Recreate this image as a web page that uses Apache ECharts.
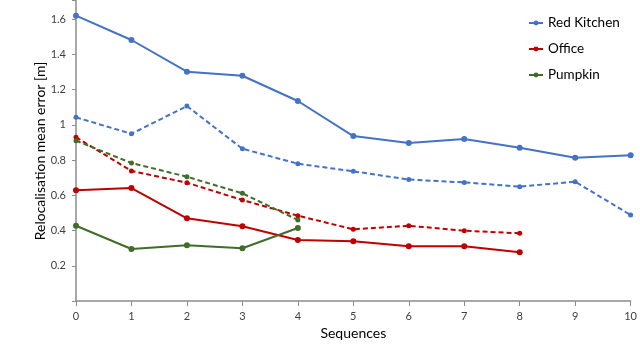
<!DOCTYPE html>
<html><head><meta charset="utf-8">
<script src="https://cdn.jsdelivr.net/npm/echarts@6/dist/echarts.min.js"></script>
<style>html,body{margin:0;padding:0;background:#fff}#c{width:640px;height:363px}</style>
</head><body><div id="c"></div>
<script>
const sequences = [0,1,2,3,4,5,6,7,8,9,10];
const yTicks = [0.2,0.4,0.6,0.8,1,1.2,1.4,1.6];
const redKitchenSolid  = [1.619,1.481,1.301,1.278,1.135,0.936,0.896,0.919,0.870,0.813,0.827];
const redKitchenDashed = [1.042,0.949,1.106,0.864,0.779,0.736,0.689,0.673,0.649,0.677,0.488];
const officeSolid  = [0.628,0.641,0.469,0.424,0.346,0.339,0.310,0.310,0.276];
const officeDashed = [0.929,0.738,0.671,0.573,0.484,0.407,0.427,0.399,0.384];
const pumpkinSolid  = [0.427,0.295,0.316,0.299,0.414];
const pumpkinDashed = [0.910,0.783,0.705,0.611,0.460];

const BLUE='#4472C4', RED='#C00000', GREEN='#3E6E27';
const FONT='Lato';
function pairs(arr){return arr.map((v,i)=>[sequences[i],v]);}
function mk(name,data,color,dashed){
  return {name:name,type:'line',data:pairs(data),symbol:'circle',symbolSize:dashed?5:6,
    lineStyle:{color:color,width:2,type:dashed?[5,3]:'solid'},itemStyle:{color:color},
    emphasis:{disabled:true},animation:false};
}
const chart = echarts.init(document.getElementById('c'),null,{renderer:'canvas'});
chart.setOption({
  animation:false,
  grid:{left:76,right:6,top:0,bottom:62,containLabel:false},
  legend:{data:['Red Kitchen','Office','Pumpkin'],orient:'vertical',left:528,top:16,padding:0,
    itemWidth:14,itemHeight:6,itemGap:12,textStyle:{fontFamily:FONT,fontSize:13.5,color:'#000'}},
  xAxis:{type:'value',min:0,max:10,interval:1,name:'Sequences',nameLocation:'middle',nameGap:23,
    nameTextStyle:{fontFamily:FONT,fontSize:14,color:'#000'},
    axisLine:{lineStyle:{color:'#8c8c8c',width:1.5}},axisTick:{show:true,length:5,lineStyle:{color:'#8c8c8c'}},
    axisLabel:{fontFamily:FONT,fontSize:11,color:'#404040',margin:10,
      formatter:v=>sequences.includes(v)?String(v):''},
    splitLine:{show:false}},
  yAxis:{type:'value',min:0,max:1.708,interval:0.2,
    axisLine:{show:true,lineStyle:{color:'#8c8c8c',width:1.5}},axisTick:{show:true,length:4,lineStyle:{color:'#8c8c8c'}},
    axisLabel:{fontFamily:FONT,fontSize:11,color:'#404040',margin:10,
      formatter:v=>{const t=yTicks.find(x=>Math.abs(x-v)<1e-6);return t===undefined?'':String(t);}},
    splitLine:{show:false}},
  graphic:[{type:'text',x:40,y:151,rotation:Math.PI/2,
    style:{text:'Relocalisation mean error [m]',fontFamily:FONT,fontSize:14,fill:'#000',
      textAlign:'center',textVerticalAlign:'middle'}}],
  series:[
    mk('Red Kitchen',redKitchenSolid,BLUE,false),
    mk('Red Kitchen (dashed)',redKitchenDashed,BLUE,true),
    mk('Office',officeSolid,RED,false),
    mk('Office (dashed)',officeDashed,RED,true),
    mk('Pumpkin',pumpkinSolid,GREEN,false),
    mk('Pumpkin (dashed)',pumpkinDashed,GREEN,true)
  ]
});
</script></body></html>
